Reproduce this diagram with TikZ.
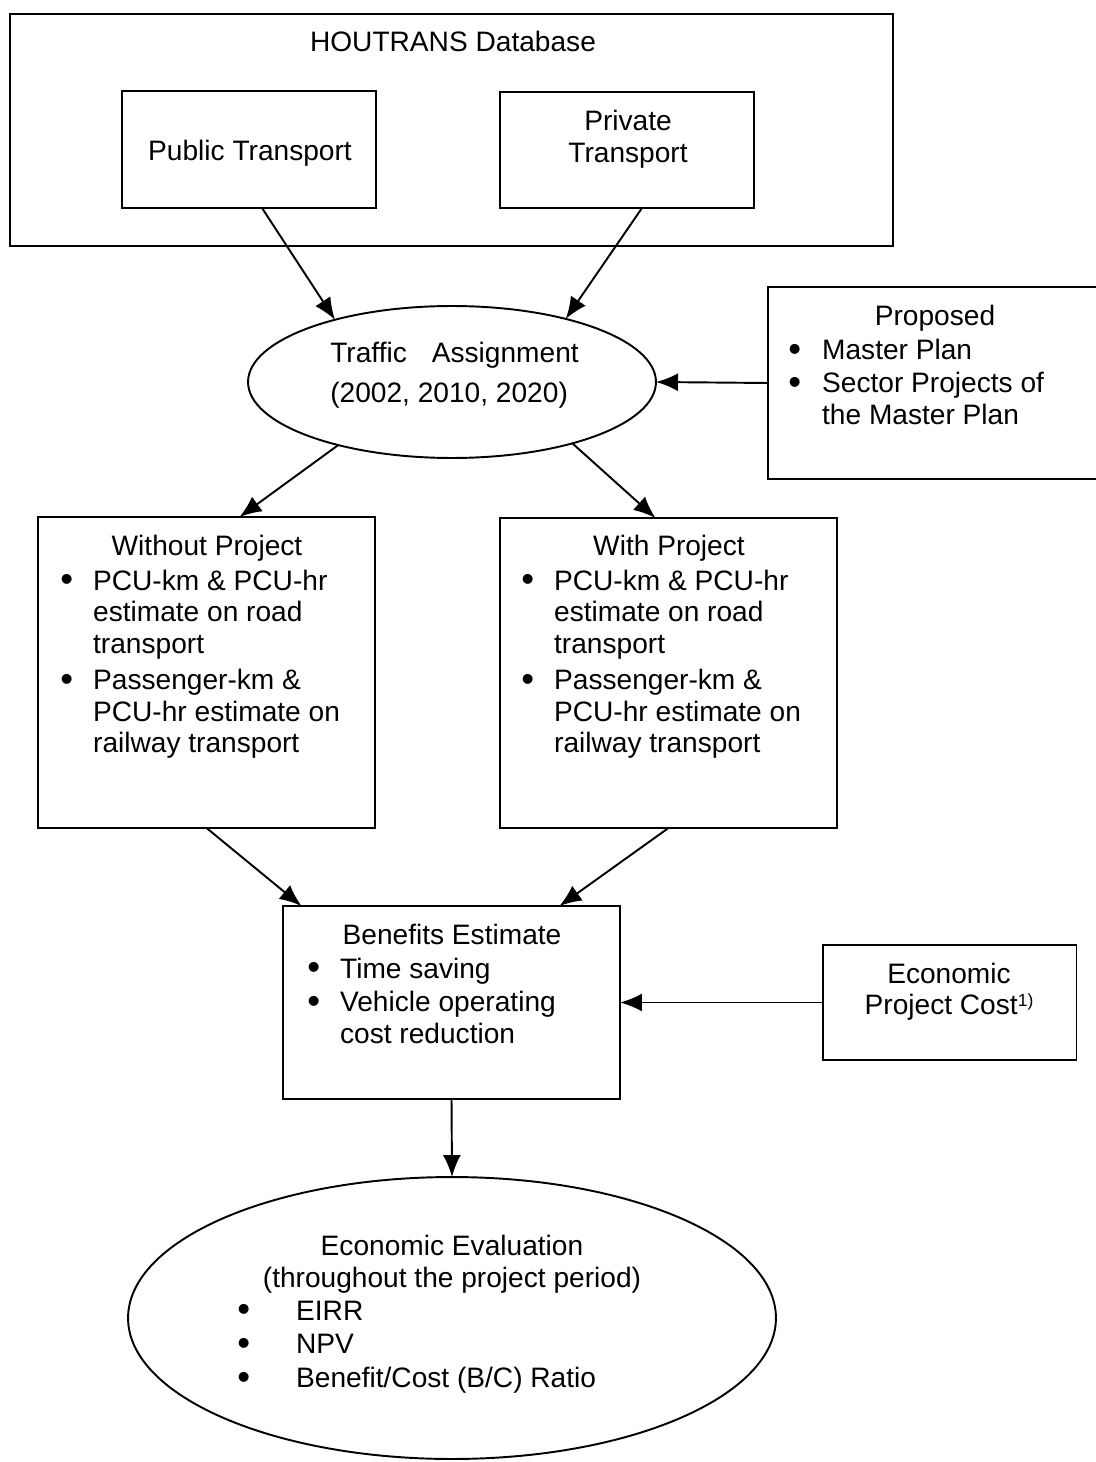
\documentclass[tikz,border=0pt]{standalone}
\usepackage{fontspec}
\usepackage{graphicx}
\setmainfont{Liberation Sans}
\usetikzlibrary{shapes.geometric,arrows.meta}
\newcommand{\fnote}[1]{\raisebox{0.55ex}{\fontsize{10}{10}\selectfont #1}}
\newcommand{\bul}{\raisebox{-0.12ex}{\scalebox{1.3}{\textbullet}}}
\begin{document}
\begin{tikzpicture}[x=0.02cm, y=-0.02cm,
  box/.style={draw, line width=1.1pt, inner sep=0pt, outer sep=0pt},
  oval/.style={draw, ellipse, line width=1.1pt, inner sep=0pt, outer sep=0pt},
  txt/.style={inner sep=0pt, anchor=base, font=\fontsize{16}{18.1}\selectfont},
  lst/.style={txt, anchor=base west},
  arr/.style={line width=1.1pt, -{Latex[length=0.44cm, width=0.36cm]}}]
  \useasboundingbox (0,0) rectangle (1095,1462);
  % database
  \node[box, minimum width=17.66cm, minimum height=4.64cm] (db) at (451.5,130) {};
  \node[txt] (dbtxt) at (453,52) {HOUTRANS Database};
  \node[box, minimum width=5.08cm, minimum height=2.34cm] (pub) at (249,149.5) {};
  \node[txt] (pubtxt) at (250,161) {Public Transport};
  \node[box, minimum width=5.08cm, minimum height=2.32cm] (pri) at (627,150) {};
  \node[txt] (pritxt) at (628,131) {\begin{tabular}[t]{@{}c@{}}Private\\Transport\end{tabular}};
  % traffic assignment
  \node[oval, minimum width=8.16cm, minimum height=3.04cm] (ta) at (452,382) {};
  \node[lst] (tatxt) at (330,363) {\begin{tabular}[t]{@{}l@{}}Traffic\hspace{0.5cm}Assignment\\[4.4pt]
    (2002, 2010, 2020)\end{tabular}};
  % proposed
  \node[box, minimum width=6.84cm, minimum height=3.84cm] (pr) at (939,383) {};
  \node[txt] (prtit) at (935,326) {Proposed};
  \node[lst] (prtxt) at (788,360) {\begin{tabular}[t]{@{}l@{\hspace{0.42cm}}l@{}}
    \bul & Master Plan\\[0.6pt]
    \bul & Sector Projects of\\
         & the Master Plan\end{tabular}};
  % without project
  \node[box, minimum width=6.74cm, minimum height=6.22cm] (wo) at (206.5,672.5) {};
  \node[txt] (wotit) at (207,555) {Without Project};
  \node[lst] (wotxt) at (60,590) {\begin{tabular}[t]{@{}l@{\hspace{0.4cm}}l@{}}
    \bul & PCU-km \& PCU-hr\\
         & estimate on road\\
         & transport\\[2.2pt]
    \bul & Passenger-km \&\\
         & PCU-hr estimate on\\
         & railway transport\end{tabular}};
  % with project
  \node[box, minimum width=6.74cm, minimum height=6.2cm] (w) at (668.5,673) {};
  \node[txt] (wtit) at (669,555) {With Project};
  \node[lst] (wtxt) at (521,590) {\begin{tabular}[t]{@{}l@{\hspace{0.4cm}}l@{}}
    \bul & PCU-km \& PCU-hr\\
         & estimate on road\\
         & transport\\[2.2pt]
    \bul & Passenger-km \&\\
         & PCU-hr estimate on\\
         & railway transport\end{tabular}};
  % benefits
  \node[box, minimum width=6.74cm, minimum height=3.86cm] (be) at (451.5,1002.5) {};
  \node[txt] (betit) at (452,944) {Benefits Estimate};
  \node[lst] (betxt) at (307,978) {\begin{tabular}[t]{@{}l@{\hspace{0.4cm}}l@{}}
    \bul & Time saving\\[1.2pt]
    \bul & Vehicle operating\\
         & cost reduction\end{tabular}};
  % project cost
  \node[box, minimum width=5.08cm, minimum height=2.3cm] (ec) at (949.5,1002.5) {};
  \node[txt] (ectxt) at (949,983) {\begin{tabular}[t]{@{}c@{}}Economic\\Project Cost\fnote{1)}\end{tabular}};
  % evaluation
  \node[oval, minimum width=12.96cm, minimum height=5.64cm] (ev) at (452,1318) {};
  \node[txt] (evtit) at (452,1255) {Economic Evaluation};
  \node[txt] (evsub) at (452,1287) {(throughout the project period)};
  \node[lst] (evtxt) at (237,1320) {\begin{tabular}[t]{@{}l@{\hspace{0.92cm}}l@{}}
    \bul & EIRR\\[1.1pt]
    \bul & NPV\\[1.1pt]
    \bul & Benefit/Cost (B/C) Ratio\end{tabular}};
  % arrows
  \draw[arr] ([xshift=0.26cm]pub.south) -- (ta.152);
  \draw[arr] ([xshift=0.3cm]pri.south) -- (ta.29);
  \draw[arr] (pr.west) -- (ta.east);
  \draw[arr] (ta.209) -- ([xshift=0.66cm]wo.north);
  \draw[arr] (ta.333) -- ([xshift=-0.26cm]w.north);
  \draw[arr] (wo.south) -- ([xshift=-3cm]be.north);
  \draw[arr] (w.south) -- ([xshift=2.16cm]be.north);
  \draw[arr] (ec.west) -- (be.east);
  \draw[arr] (be.south) -- (ev.north);
\end{tikzpicture}
\end{document}
